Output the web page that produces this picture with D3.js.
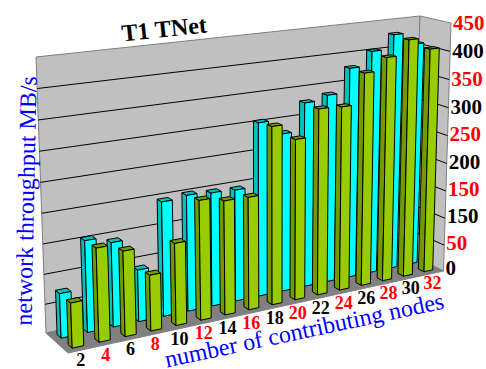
<!DOCTYPE html>
<html><head><meta charset="utf-8">
<script src="https://cdn.jsdelivr.net/npm/d3@7"></script>
<style>html,body{margin:0;padding:0;background:#fff}svg{display:block}text{font-family:"Liberation Serif",serif}</style>
</head><body><svg id="c" width="486" height="369"></svg>
<script>
const categories=["2","4","6","8","10","12","14","16","18","20","22","24","26","28","30","32"];
const seriesBack=[76,155,144,90,197,201,198,196,305,280,328,336,378,403,428,407];
const seriesFront=[76,157,144,96,141,205,197,196,309,281,327,325,378,400,426,405];
const valueTicks=[0,50,100,150,200,250,300,350,400,450];
const valueTickLabels=["0","50","150","150","200","250","300","350","400","450"];
const labelColors=["#000","#f00"];
const svg=d3.select("#c");
const backQuad={tl:[36,57],tr:[420,16],br:[412,256],bl:[46,333]};
const frontQuad={tl:[58,70],tr:[451,23],br:[443.5,271],bl:[68,353]};
const lerp=(a,b,t)=>[a[0]+(b[0]-a[0])*t,a[1]+(b[1]-a[1])*t];
const onQuad=(q,u,v)=>lerp(lerp(q.bl,q.br,u),lerp(q.tl,q.tr,u),v);
const warp=(u,a)=>a*u/(1+(a-1)*u);
const P=(u,v,w,a=1.162)=>{const t=warp(u,a);return lerp(onQuad(backQuad,t,v),onQuad(frontQuad,t,v),w);};
const xBand=d3.scaleBand().domain(categories).range([0,1]).paddingInner(0.57).paddingOuter(0.285);
const xPoint=d3.scalePoint().domain(categories).range([0,1]).padding(0.5);
const yV=d3.scalePow().exponent(1.03).domain([0,450]).range([0,1]);
const line=d3.line();
const poly=(g,pts,fill,stroke,sw)=>g.append("path").attr("d",line(pts)+"Z").attr("fill",fill).attr("stroke",stroke||"none").attr("stroke-width",sw||1).attr("stroke-linejoin","round");
const g=svg.append("g");
poly(g,[P(0,1,0),P(1,1,0),P(1,0,0),P(0,0,0)],"#c0c0c0","#808080",1);
poly(g,[P(1,1,0),P(1,1,1),P(1,0,1),P(1,0,0)],"#c0c0c0","#808080",1);
poly(g,[P(0,0,0),P(1,0,0),P(1,0,1),P(0,0,1)],"#808080","#808080",1);
valueTicks.slice(1,-1).forEach(t=>{const v=yV(t);
  g.append("path").attr("d",line([P(0,v,0),P(1,v,0),P(1,v,1)])).attr("fill","none").attr("stroke","#000").attr("stroke-width",1);
});
function bars(vals,w0,w1,front,dark,top){
  d3.range(vals.length).reverse().forEach(i=>{
    const c=categories[i],u0=xBand(c),u1=u0+xBand.bandwidth(),v=yV(vals[i]);
    poly(g,[P(u0,0,w0),P(u0,0,w1),P(u0,v,w1),P(u0,v,w0)],dark,"#000",1);
    poly(g,[P(u0,v,w0),P(u1,v,w0),P(u1,v,w1),P(u0,v,w1)],top,"#000",1);
    poly(g,[P(u0,0,w1),P(u1,0,w1),P(u1,v,w1),P(u0,v,w1)],front,"#000",1);
  });
}
bars(seriesBack,0.16,0.34,"#00ffff","#00c0c0","#00c0c0");
bars(seriesFront,0.66,0.84,"#99cc00","#739900","#739900");
valueTicks.forEach((t,i)=>{const v=yV(t),p=P(1,v,1);
  svg.append("text").attr("x",p[0]+2).attr("y",p[1]+4+3*v).attr("font-size",21).attr("font-weight","bold")
    .attr("fill",labelColors[i%2]).text(valueTickLabels[i]);
});
categories.forEach((c,i)=>{const p=P(xPoint(c),0,1,1.08);
  svg.append("text").attr("x",p[0]).attr("y",p[1]+16).attr("text-anchor","middle").attr("font-size",18).attr("font-weight","bold")
    .attr("fill",labelColors[i%2]).text(c);
});
const rot=(x,y,a,txt,size,fill,weight)=>svg.append("text").attr("transform",`translate(${x},${y}) rotate(${a})`).attr("text-anchor","middle").attr("font-size",size).attr("fill",fill).attr("font-weight",weight).text(txt);
rot(165,37,-6,"T1 TNet",24,"#000","bold");
rot(34,201,-88.8,"network throughput MB/s",24,"#00f","normal");
rot(306,338,-12,"number of contributing nodes",24,"#00f","normal");
</script></body></html>
